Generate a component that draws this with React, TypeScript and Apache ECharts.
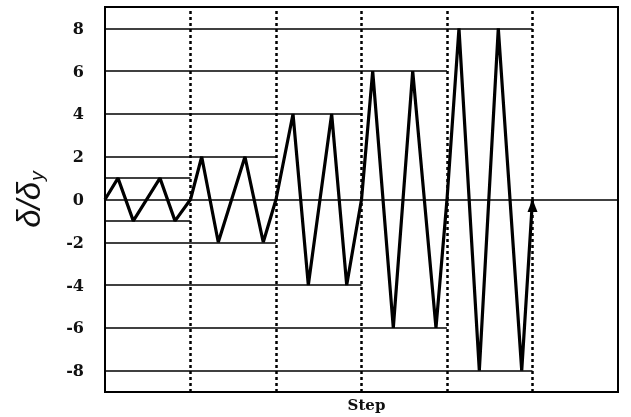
import React, { useEffect, useRef } from "react";
import * as echarts from "echarts";

// Loading history (x in cycle-group units, y = δ/δy)
const stepX = [
  0, 0.152, 0.331, 0.643, 0.819, 1.0,
  1.131, 1.325, 1.637, 1.851, 2.0,
  2.199, 2.378, 2.651, 2.827, 3.0,
  3.131, 3.372, 3.599, 3.871, 4.0,
  4.14, 4.378, 4.6, 4.874, 5.0,
];
const ratio = [
  0, 1, -1, 1, -1, 0,
  2, -2, 2, -2, 0,
  4, -4, 4, -4, 0,
  6, -6, 6, -6, 0,
  8, -8, 8, -8, 0,
];
// amplitude levels and the group boundary each reference line ends at
const levels = [1, 2, 4, 6, 8];
const levelEnds = [1, 2, 3, 4, 5];
const groupBounds = [1, 2, 3, 4, 5];
const yTicks = [-8, -6, -4, -2, 0, 2, 4, 6, 8];

export default function App() {
  const ref = useRef<HTMLDivElement>(null);
  useEffect(() => {
    if (!ref.current) return;
    const chart = echarts.init(ref.current, null, { renderer: "svg" });
    const pts = stepX.map((x, i) => {
      if (i === stepX.length - 1) {
        return {
          value: [x, ratio[i]],
          symbol: "triangle",
          symbolSize: [10, 13],
          symbolOffset: [0, 6],
          itemStyle: { color: "#000" },
        };
      }
      return { value: [x, ratio[i]] };
    });
    const hLines: any[] = [];
    levels.forEach((L, i) => {
      hLines.push([{ coord: [0, L] }, { coord: [levelEnds[i], L] }]);
      hLines.push([{ coord: [0, -L] }, { coord: [levelEnds[i], -L] }]);
    });
    hLines.push([{ coord: [0, 0] }, { coord: [6, 0] }]);
    chart.setOption({
      animation: false,
      grid: {
        left: 105,
        right: 13,
        top: 7,
        bottom: 25,
        show: true,
        borderColor: "#000",
        borderWidth: 2,
        containLabel: false,
        outerBoundsMode: "none",
      },
      xAxis: {
        type: "value",
        min: 0,
        max: 6,
        interval: 1,
        axisLabel: { show: false },
        axisTick: { show: false },
        axisLine: { show: false },
        splitLine: { show: false },
        name: "Step",
        nameLocation: "middle",
        nameGap: 5,
        nameTextStyle: {
          fontFamily: "DejaVu Serif",
          fontWeight: "bold",
          fontSize: 15,
          color: "#111",
          padding: [0, 0, 0, 10],
        },
      },
      yAxis: {
        type: "value",
        min: -9,
        max: 9,
        interval: 1,
        axisLabel: {
          formatter: (v: number) => (yTicks.includes(v) ? String(v) : ""),
          fontFamily: "DejaVu Serif",
          fontWeight: "bold",
          fontSize: 16,
          color: "#111",
          margin: 21,
        },
        axisTick: { show: false },
        axisLine: { show: false },
        splitLine: { show: false },
        name: "{a|δ/δ}{b|y}",
        nameLocation: "middle",
        nameRotate: 90,
        nameGap: 58,
        nameTextStyle: {
          rich: {
            a: {
              fontFamily: "Liberation Sans",
              fontStyle: "italic",
              fontSize: 33,
              color: "#111",
              lineHeight: 38,
            },
            b: {
              fontFamily: "Liberation Sans",
              fontStyle: "italic",
              fontSize: 19,
              color: "#111",
              lineHeight: 38,
              padding: [16, 0, 0, 1],
            },
          },
        },
      },
      series: [
        {
          type: "line",
          data: pts,
          symbol: "none",
          showSymbol: true,
          lineStyle: { color: "#000", width: 3.2 },
          silent: true,
          z: 5,
          markLine: {
            silent: true,
            symbol: ["none", "none"],
            label: { show: false },
            lineStyle: { color: "#000", width: 1.5, type: "solid" },
            data: hLines,
          },
        },
        {
          type: "line",
          data: [],
          markLine: {
            silent: true,
            symbol: ["none", "none"],
            label: { show: false },
            lineStyle: { color: "#000", width: 2.5, type: [3, 3] },
            data: groupBounds.map((x) => ({ xAxis: x })),
          },
        },
      ],
    });
    return () => chart.dispose();
  }, []);
  return (
    <div
      ref={ref}
      style={{ position: "fixed", left: 0, top: 0, width: 631, height: 417 }}
    />
  );
}
